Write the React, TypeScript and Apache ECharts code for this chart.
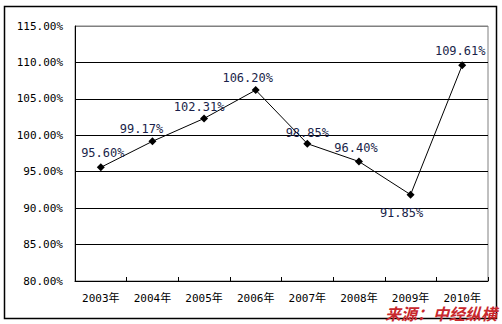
import React, { useEffect, useRef } from "react";
import * as echarts from "echarts";

const categories = ["2003年", "2004年", "2005年", "2006年", "2007年", "2008年", "2009年", "2010年"];
const values = [95.6, 99.17, 102.31, 106.2, 98.85, 96.4, 91.85, 109.61];
const labelPositions = ["top", "top", "top", "top", "top", "top", "bottom", "top"];
const labelOffsets = [[2, 0], [-11, 2], [-5, 3], [-8, 2], [0, 3], [-3, 0], [-9, 4], [-2, 0]];
const sourceText = "来源：中经纵横";

export default function App() {
  const ref = useRef<HTMLDivElement>(null);
  useEffect(() => {
    const chart = echarts.init(ref.current!, null, { renderer: "svg" });
    const mono = "'DejaVu Sans Mono', 'Noto Sans CJK SC', monospace";
    chart.setOption({
      animation: false,
      backgroundColor: "#ffffff",
      grid: {
        left: 75,
        top: 26,
        right: 14,
        bottom: 43,
        show: true,
        borderColor: "#808080",
        borderWidth: 1,
      },
      xAxis: {
        type: "category",
        data: categories,
        boundaryGap: true,
        axisLine: { show: true, lineStyle: { color: "#000", width: 1 } },
        axisTick: { show: true, inside: true, length: 4, lineStyle: { color: "#000" } },
        axisLabel: {
          color: "#000",
          fontSize: 11,
          lineHeight: 12,
          margin: 11,
          fontFamily: mono,
          interval: 0,
        },
        splitLine: { show: false },
      },
      yAxis: {
        type: "value",
        min: 80,
        max: 115,
        interval: 5,
        axisLine: { show: true, lineStyle: { color: "#000", width: 1 } },
        axisTick: { show: false },
        axisLabel: {
          color: "#000",
          fontSize: 11,
          margin: 12,
          fontFamily: mono,
          formatter: (v: number) => v.toFixed(2) + "%",
        },
        splitLine: {
          show: true,
          lineStyle: {
            color: ["#000", "#000", "#000", "#000", "#000", "#000", "#000", "#808080"],
            width: 1,
          },
        },
      },
      series: [
        {
          type: "line",
          data: values.map((v, i) => ({
            value: v,
            label: {
              position: labelPositions[i],
              offset: labelOffsets[i],
            },
          })),
          symbol: "diamond",
          symbolSize: 8,
          itemStyle: { color: "#000" },
          lineStyle: { color: "#000", width: 1 },
          label: {
            show: true,
            color: "#1a1f4a",
            fontSize: 12,
            fontFamily: mono,
            distance: 4,
            formatter: (p: any) => p.value.toFixed(2) + "%",
          },
        },
      ],
      graphic: [
        {
          type: "rect",
          shape: { x: 4.5, y: 6.5, width: 492, height: 312 },
          style: { fill: "none", stroke: "#000", lineWidth: 1.5 },
          silent: true,
          z: -1,
        },
        {
          type: "text",
          right: 5,
          top: 305,
          style: {
            text: sourceText,
            fill: "#c8282d",
            font: "italic bold 16px 'Noto Sans CJK SC', sans-serif",
            lineHeight: 16,
          },
          z: 10,
        },
      ],
    });
    return () => chart.dispose();
  }, []);
  return (
    <div
      ref={ref}
      style={{ position: "fixed", left: 0, top: 0, width: 502, height: 324, background: "#fff" }}
    />
  );
}
